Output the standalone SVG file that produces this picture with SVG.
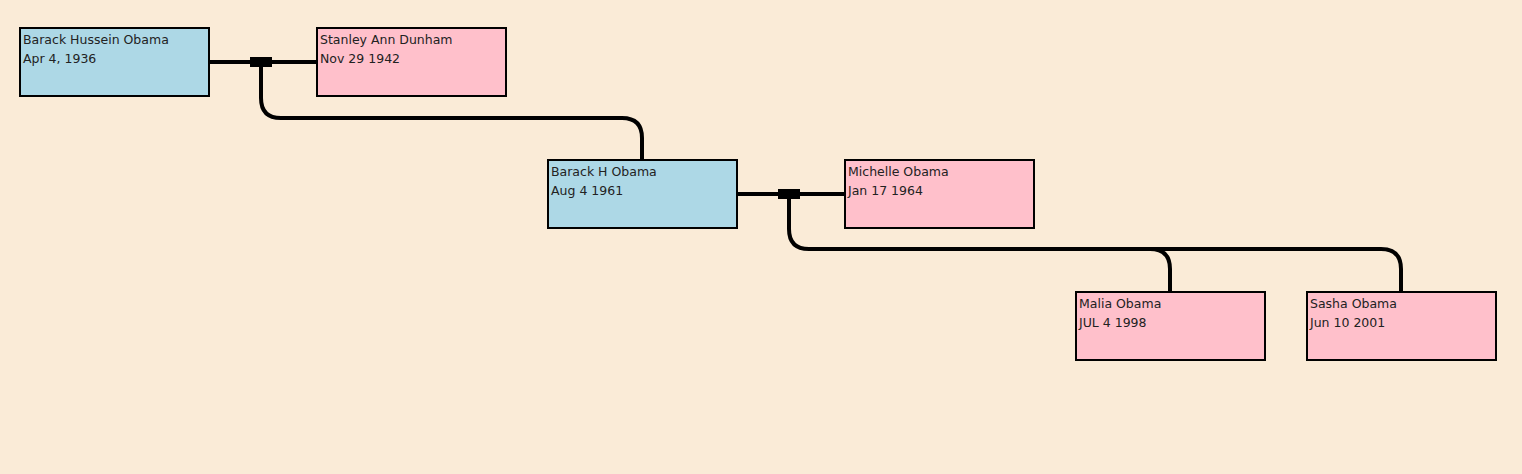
<svg xmlns="http://www.w3.org/2000/svg" width="1522" height="474" viewBox="0 0 1522 474">
<style>
.bg{fill:#faebd7}
.m{fill:#add8e6;stroke:#000;stroke-width:2}
.f{fill:#ffc0cb;stroke:#000;stroke-width:2}
.t{font-family:"DejaVu Sans",sans-serif;font-size:12.5px;fill:#222}
.c{fill:none;stroke:#000;stroke-width:4}
.j{fill:#000}
</style>
<rect class="bg" width="1522" height="474"/>
<g id="connectors">
<path class="c" d="M208 62H317"/>
<rect class="j" x="250" y="57" width="22" height="10"/>
<path class="c" d="M261 62V98Q261 118 281 118H622Q642 118 642 138V160"/>
<path class="c" d="M736 194H845"/>
<rect class="j" x="778" y="189" width="22" height="10"/>
<path class="c" d="M789 194V229Q789 249 809 249H1150Q1170 249 1170 269V292"/>
<path class="c" d="M1150 249H1381Q1401 249 1401 269V292"/>
</g>
<g id="n1"><rect class="m" x="20" y="28" width="189" height="68"/><text class="t" x="23" y="44">Barack Hussein Obama</text><text class="t" x="23" y="63">Apr 4, 1936</text></g>
<g id="n2"><rect class="f" x="317" y="28" width="189" height="68"/><text class="t" x="320" y="44">Stanley Ann Dunham</text><text class="t" x="320" y="63">Nov 29 1942</text></g>
<g id="n3"><rect class="m" x="548" y="160" width="189" height="68"/><text class="t" x="551" y="176">Barack H Obama</text><text class="t" x="551" y="195">Aug 4 1961</text></g>
<g id="n4"><rect class="f" x="845" y="160" width="189" height="68"/><text class="t" x="848" y="176">Michelle Obama</text><text class="t" x="848" y="195">Jan 17 1964</text></g>
<g id="n5"><rect class="f" x="1076" y="292" width="189" height="68"/><text class="t" x="1079" y="308">Malia Obama</text><text class="t" x="1079" y="327">JUL 4 1998</text></g>
<g id="n6"><rect class="f" x="1307" y="292" width="189" height="68"/><text class="t" x="1310" y="308">Sasha Obama</text><text class="t" x="1310" y="327">Jun 10 2001</text></g>
</svg>
